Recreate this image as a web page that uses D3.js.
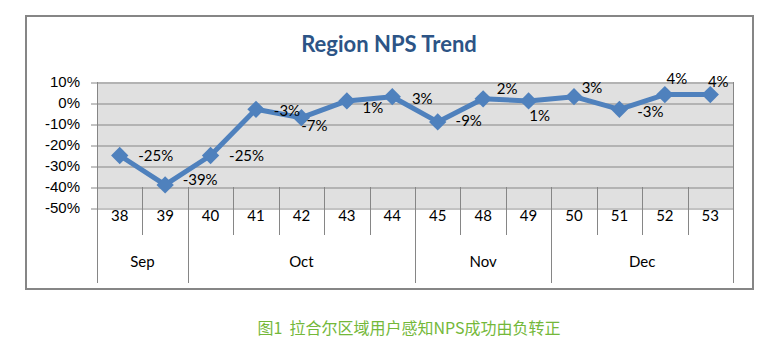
<!DOCTYPE html>
<html>
<head>
<meta charset="utf-8">
<script src="https://cdn.jsdelivr.net/npm/d3@7"></script>
<style>
  body { margin: 0; background: #fff; }
  svg { display: block; font-family: Lato, "Liberation Sans", sans-serif; }
  .tick text { font-size: 15px; fill: #000; }
</style>
</head>
<body>
<div id="chart"></div>
<script>
// Region NPS trend, weekly, grouped by month

// Data
const weeks = ['38', '39', '40', '41', '42', '43', '44', '45', '48', '49', '50', '51', '52', '53'];
const weekMonth = ['Sep', 'Sep', 'Oct', 'Oct', 'Oct', 'Oct', 'Oct', 'Nov', 'Nov', 'Nov', 'Dec', 'Dec', 'Dec', 'Dec'];
const npsValues = [-25, -39, -25, -3, -7, 1, 3, -9, 2, 1, 3, -3, 4, 4];
const yTicks = [10, 0, -10, -20, -30, -40, -50];

// label nudges (dx, dy) relative to each marker, as placed in the original
const labelNudge = [[36, 0], [35, -5], [36, 0], [31, 1], [13, 8], [26, 7], [30, 2],
    [31, -1], [24, -10], [11, 15], [18, -9], [31, 2], [12, -16], [8, -13]];

const W = 778, H = 354;
const plot = { left: 97, right: 733, top: 82, bottom: 208 };
const weekRowBottom = 235;
const monthRowBottom = 283;
const gridColor = '#868686';

const svg = d3.select('#chart')
    .append('svg')
    .attr('width', W)
    .attr('height', H);

// outer frame
svg.append('rect')
    .attr('x', 26)
    .attr('y', 16)
    .attr('width', 727)
    .attr('height', 273)
    .attr('fill', '#fff')
    .attr('stroke', gridColor)
    .attr('stroke-width', 2);

// title
svg.append('text')
    .attr('x', 389)
    .attr('y', 52)
    .attr('text-anchor', 'middle')
    .attr('font-size', 22)
    .attr('font-weight', 'bold')
    .attr('fill', '#2c5486')
    .text('Region NPS Trend');

// scales
const x = d3.scaleBand()
    .domain(weeks)
    .range([plot.left, plot.right]);

const y = d3.scaleLinear()
    .domain([-50, 10])
    .range([plot.bottom, plot.top]);

// plot background
svg.append('rect')
    .attr('x', plot.left)
    .attr('y', plot.top)
    .attr('width', plot.right - plot.left)
    .attr('height', plot.bottom - plot.top)
    .attr('fill', '#e0e0e0');

// horizontal gridlines
svg.append('g')
    .attr('transform', `translate(${plot.left}, 0.5)`)
    .call(d3.axisLeft(y).tickValues(yTicks).tickSize(-(plot.right - plot.left)).tickFormat(''))
    .call(g => g.select('.domain').remove())
    .call(g => g.selectAll('line').attr('stroke', gridColor));

// y axis
svg.append('g')
    .attr('transform', `translate(${plot.left}, 0.5)`)
    .call(d3.axisLeft(y).tickValues(yTicks).tickSizeInner(6).tickSizeOuter(0).tickPadding(11)
        .tickFormat(d => d + '%'))
    .call(g => g.select('.domain').remove())
    .call(g => g.selectAll('line').attr('stroke', gridColor))
    .call(g => g.selectAll('text').attr('dy', '0.28em'));

// category separators: weeks and months
const bw = x.bandwidth();
const bounds = d3.range(weeks.length + 1);
svg.append('g')
    .selectAll('line')
    .data(bounds)
    .enter()
    .append('line')
    .attr('x1', i => Math.round(plot.left + i * bw) + 0.5)
    .attr('x2', i => Math.round(plot.left + i * bw) + 0.5)
    .attr('y1', i => (i === 0 || i === weeks.length) ? plot.top : y(-40))
    .attr('y2', i => (i === 0 || i === weeks.length || weekMonth[i] !== weekMonth[i - 1]) ? monthRowBottom : weekRowBottom)
    .attr('stroke', gridColor);

// week labels
svg.append('g')
    .selectAll('text')
    .data(weeks)
    .enter()
    .append('text')
    .attr('x', d => x(d) + bw / 2)
    .attr('y', 221)
    .attr('text-anchor', 'middle')
    .attr('font-size', 15)
    .text(d => d);

// month labels, centred on their weeks
const months = Array.from(d3.group(weeks.map((w, i) => ({ w, m: weekMonth[i] })), d => d.m),
    ([m, arr]) => ({ m, x0: x(arr[0].w), x1: x(arr[arr.length - 1].w) + bw }));
svg.append('g')
    .selectAll('text')
    .data(months)
    .enter()
    .append('text')
    .attr('x', d => (d.x0 + d.x1) / 2)
    .attr('y', 267)
    .attr('text-anchor', 'middle')
    .attr('font-size', 15)
    .text(d => d.m);

// line
const points = weeks.map((w, i) => ({ w, v: npsValues[i], i }));
const line = d3.line()
    .x(d => x(d.w) + bw / 2)
    .y(d => y(d.v));

svg.append('path')
    .datum(points)
    .attr('d', line)
    .attr('fill', 'none')
    .attr('stroke', '#4f81bd')
    .attr('stroke-width', 5)
    .attr('stroke-linejoin', 'round');

// diamond markers
svg.append('g')
    .selectAll('path')
    .data(points)
    .enter()
    .append('path')
    .attr('d', d3.symbol(d3.symbolSquare, 150))
    .attr('transform', d => `translate(${x(d.w) + bw / 2}, ${y(d.v)}) rotate(45)`)
    .attr('fill', '#4f81bd');

// value labels
svg.append('g')
    .selectAll('text')
    .data(points)
    .enter()
    .append('text')
    .attr('x', d => x(d.w) + bw / 2 + labelNudge[d.i][0])
    .attr('y', d => y(d.v) + labelNudge[d.i][1])
    .attr('dy', '0.36em')
    .attr('text-anchor', 'middle')
    .attr('font-size', 15)
    .text(d => d.v + '%');

// caption
svg.append('text')
    .attr('x', 409)
    .attr('y', 334)
    .attr('text-anchor', 'middle')
    .attr('font-family', '"Noto Sans CJK SC", sans-serif')
    .attr('font-size', 16)
    .attr('fill', '#74b83a')
    .style('white-space', 'pre')
    .text('图1  拉合尔区域用户感知NPS成功由负转正');
</script>
</body>
</html>
